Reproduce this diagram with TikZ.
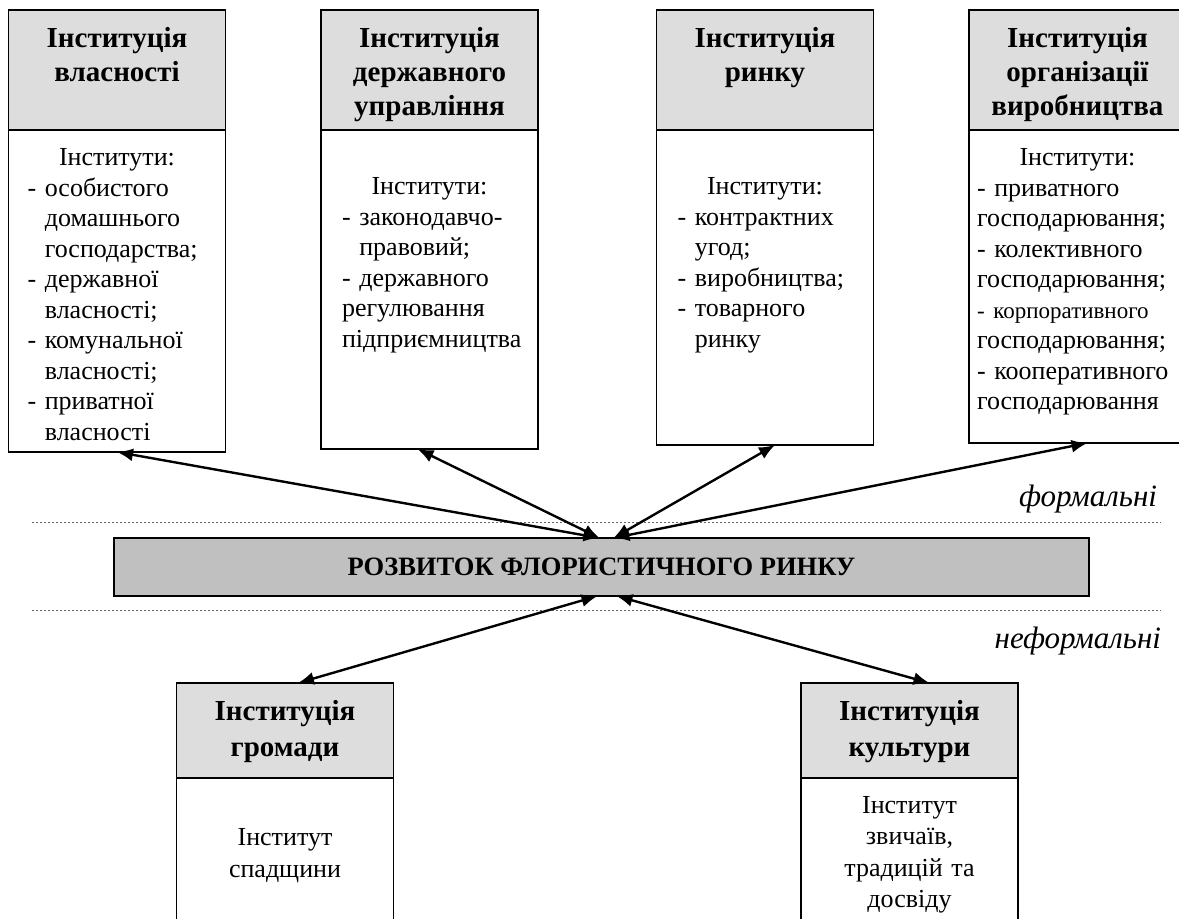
\documentclass[tikz,border=0pt]{standalone}
\usepackage{fontspec}
\setmainfont{Liberation Serif}
\usetikzlibrary{positioning,calc,arrows.meta}
\definecolor{headgray}{HTML}{DDDDDD}
\definecolor{bargray}{HTML}{C0C0C0}
\newcommand{\dsh}{\phantom{- }}

\begin{document}
\begin{tikzpicture}[x=0.5pt,y=-0.5pt,
    every node/.style={font=\fontsize{13}{15.25}\selectfont, outer sep=0pt},
    head/.style={draw, line width=0.9pt, fill=headgray, minimum width=108.5pt,
        text width=106pt, align=center, inner sep=0pt,
        font=\fontsize{14.5}{17}\selectfont\bfseries, text height=19pt, text depth=41pt},
    body/.style={draw, line width=0.9pt, fill=white, minimum width=108.5pt,
        inner sep=0pt, align=left},
    link/.style={line width=1.2pt, {Latex[length=8pt,width=6.5pt]}-{Latex[length=8pt,width=6.5pt]}},
    level/.style={gray!80!black, line width=0.5pt, dash pattern=on 1pt off 1pt}]

    \useasboundingbox (0,0) rectangle (1179,919);

%% formal institutions
    \node[head, anchor=north] (h1) at (117,10) {Інституція\\власності};
    \node[body, below=0pt of h1, text width=89.5pt, text height=18pt, text depth=143pt] (b1)
        {\makebox[\linewidth]{Інститути:}\\
         - особистого\\ \dsh домашнього\\ \dsh господарства;\\
         - державної\\ \dsh власності;\\
         - комунальної\\ \dsh власності;\\
         - приватної\\ \dsh власності};

    \node[head, anchor=north] (h2) at (429.5,10) {Інституція\\державного\\управління};
    \node[body, below=0pt of h2, text width=87.5pt, text height=32.5pt, text depth=127pt] (b2)
        {\makebox[\linewidth]{Інститути:}\\
         - законодавчо-\\ \dsh правовий;\\
         - державного\\ регулювання\\ підприємництва};

    \node[head, anchor=north] (h3) at (765,10) {Інституція\\ринку};
    \node[body, below=0pt of h3, text width=87.5pt, text height=32.5pt, text depth=125pt] (b3)
        {\makebox[\linewidth]{Інститути:}\\
         - контрактних\\ \dsh угод;\\
         - виробництва;\\
         - товарного\\ \dsh ринку};

    \node[head, anchor=north] (h4) at (1077.5,10) {Інституція\\організації\\виробництва};
    \node[body, below=0pt of h4, text width=100.5pt, text height=18pt, text depth=138.5pt] (b4)
        {\makebox[\linewidth]{Інститути:}\\
         - приватного\\ господарювання;\\
         - колективного\\ господарювання;\\
         {\fontsize{11.5}{15.25}\selectfont - корпоративного}\\ господарювання;\\
         - кооперативного\\ господарювання};

%% central bar and levels
    \draw[level] (32,523) -- (1161,523);
    \draw[level] (32,611) -- (1161,611);
    \node[draw, fill=bargray, line width=0.9pt, minimum width=487.5pt, minimum height=29pt,
        inner sep=0pt, font=\fontsize{13.25}{15}\selectfont\bfseries] (bar) at (601.5,567)
        {РОЗВИТОК ФЛОРИСТИЧНОГО РИНКУ};
    \node[anchor=base east, inner sep=0pt, font=\fontsize{15.5}{18}\selectfont\itshape] (formal)
        at (1157,507) {формальні};
    \node[anchor=base east, inner sep=0pt, font=\fontsize{15.5}{18}\selectfont\itshape] (informal)
        at (1161,648) {неформальні};

%% informal institutions
    \node[head, anchor=north, text height=18.5pt, text depth=29pt,
        font=\fontsize{14.5}{18}\selectfont\bfseries] (h5) at (285,683) {Інституція\\громади};
    \node[body, below=0pt of h5, text width=100pt, align=center, text height=33.5pt,
        text depth=42.5pt, font=\fontsize{13}{16}\selectfont] (b5) {Інститут\\спадщини};

    \node[head, anchor=north, text height=18.5pt, text depth=29pt,
        font=\fontsize{14.5}{18}\selectfont\bfseries] (h6) at (909.5,683) {Інституція\\культури};
    \node[body, below=0pt of h6, text width=100pt, align=center, text height=17.5pt,
        text depth=58.5pt, font=\fontsize{13}{15.75}\selectfont] (b6)
        {Інститут\\звичаїв,\\традицій та\\досвіду};

%% links
    \draw[link] (b1.south) -- ($(bar.north)+(-2,0)$);
    \draw[link] ($(b2.south)+(-12,0)$) -- ($(bar.north)+(-2,0)$);
    \draw[link] ($(b3.south)+(10,0)$) -- ($(bar.north)+(12,0)$);
    \draw[link] ($(b4.south)+(10,0)$) -- ($(bar.north)+(12,0)$);
    \draw[link] ($(bar.south)+(-4,0)$) -- ($(h5.north)+(13,0)$);
    \draw[link] ($(bar.south)+(15,0)$) -- ($(h6.north)+(20,0)$);

\end{tikzpicture}
\end{document}
